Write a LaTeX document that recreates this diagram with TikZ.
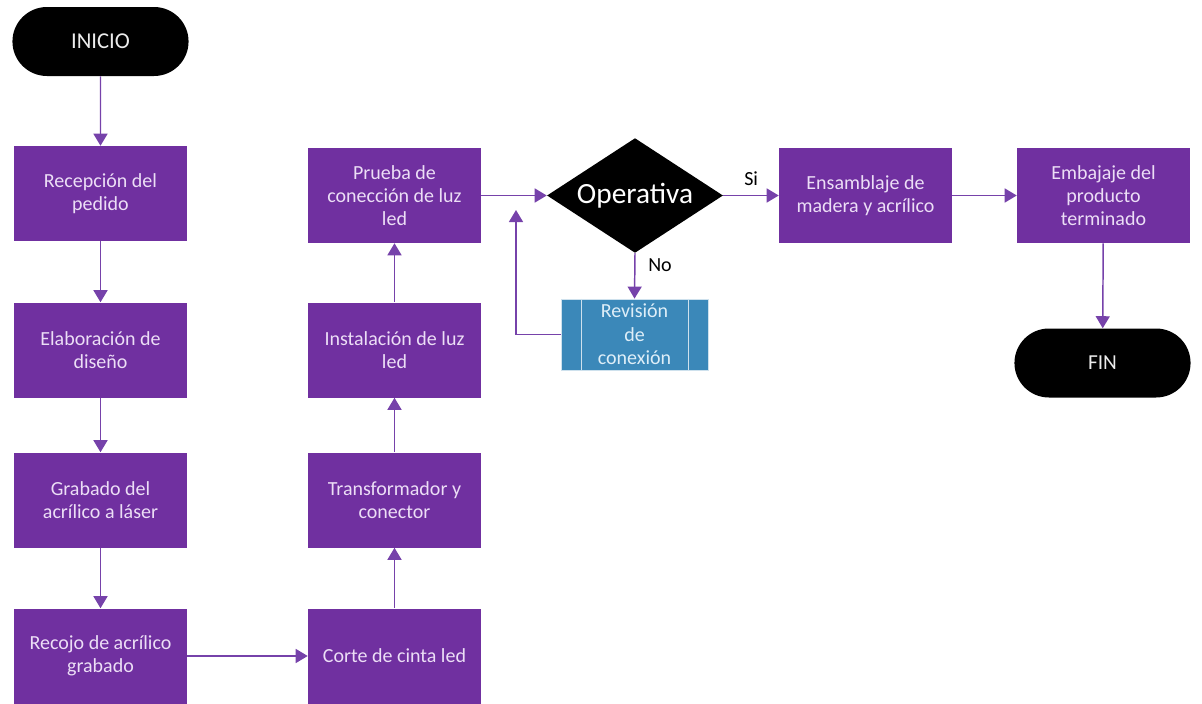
\documentclass[tikz,border=0pt]{standalone}
\usepackage{fontspec}
\setmainfont{Carlito}
\usepackage{xcolor}
\usetikzlibrary{shapes.geometric, shapes.misc, arrows.meta}

\definecolor{procfill}{RGB}{112,48,160}
\definecolor{proctext}{RGB}{236,222,246}
\definecolor{flowcol}{RGB}{118,66,170}
\definecolor{revfill}{RGB}{59,136,185}
\definecolor{revtext}{RGB}{222,238,248}

\tikzset{
  proc/.style={fill=procfill, draw=none, minimum width=129.75pt, minimum height=71.25pt,
    text=proctext, align=center, inner sep=2pt, font=\fontsize{15}{17.25}\selectfont},
  term/.style={rounded rectangle, fill=black, draw=none, minimum width=138.75pt,
    minimum height=51.75pt, text=white!85!gray},
  decis/.style={diamond, fill=black, draw=none, minimum width=132pt, minimum height=86pt,
    inner sep=0pt, aspect=1.53, text=white, font=\fontsize{22}{26}\selectfont},
  revbox/.style={fill=revfill, draw=white!75!revfill, line width=0.6pt, minimum width=110.25pt,
    minimum height=53.25pt, text=revtext, align=center, inner sep=1pt,
    font=\fontsize{15}{17.5}\selectfont},
  flow/.style={draw=flowcol, line width=1.1pt, -{Triangle[length=9pt, width=10.5pt]}},
  lbl/.style={text=black, font=\fontsize{15}{17}\selectfont, inner sep=0.75pt}
}

\begin{document}
\begin{tikzpicture}[x=0.75pt,y=0.75pt,yscale=-1,xscale=1]
        \useasboundingbox (0,0) rectangle (1202,703);

        %Shape: Terminator
        \node [term, font=\fontsize{17}{20}\selectfont] (inicio) at (100.5,41.5) {INICIO};

        %Shape: Rectangle (left column)
        \node [proc] (recep) at (100.5,193.5) {Recepción del\\pedido};
        \node [proc] (elab) at (100.5,350) {Elaboración de\\diseño};
        \node [proc] (grab) at (100.5,500) {Grabado del\\acrílico a láser};
        \node [proc] (recojo) at (100.5,656) {Recojo de acrílico\\grabado};

        %Shape: Rectangle (second column)
        \node [proc] (corte) at (394.5,656) {Corte de cinta led};
        \node [proc] (trafo) at (394.5,500) {Transformador y\\conector};
        \node [proc] (instal) at (394.5,350) {Instalación de luz\\led};
        \node [proc] (prueba) at (394.5,195.5) {Prueba de\\conección de luz\\led};

        %Shape: Decision
        \node [decis] (oper) at (635,195.5) {Operativa};

        %Shape: Predefined process
        \node [revbox] (revis) at (634.5,334.5) {Revisión\\de\\conexión};
        \draw [draw=white!75!revfill, line width=0.6pt] ([xshift=15.75pt]revis.north west) -- ([xshift=15.75pt]revis.south west);
        \draw [draw=white!75!revfill, line width=0.6pt] ([xshift=-15pt]revis.north east) -- ([xshift=-15pt]revis.south east);

        %Shape: Rectangle (right part)
        \node [proc] (ensam) at (865.5,195.5) {Ensamblaje de\\madera y acrílico};
        \node [proc] (embal) at (1103.5,195.5) {Embajaje del\\producto\\terminado};

        %Shape: Terminator
        \node [term, font=\fontsize{16}{19}\selectfont] (fin) at (1102.5,363) {FIN};

        % Connectors
        \draw [flow] (inicio) -- (recep);
        \draw [flow] (recep) -- (elab);
        \draw [flow] (elab) -- (grab);
        \draw [flow] (grab) -- (recojo);
        \draw [flow] (recojo) -- (corte);
        \draw [flow] (corte) -- (trafo);
        \draw [flow] (trafo) -- (instal);
        \draw [flow] (instal) -- (prueba);
        \draw [flow] (prueba.east) -- (oper.west);
        \draw [flow] (oper.east) -- (ensam.west);
        \draw [flow] (ensam) -- (embal);
        \draw [flow] (embal) -- (fin);
        \draw [flow] (oper.south) -- (revis.north);

        % Return loop
        \coordinate (back) at (516,210);
        \draw [flow] (revis.west) -| (back);

        % Text Node
        \node [lbl, anchor=south west] (si) at (743,187) {Si};
        % Text Node
        \node [lbl, anchor=west] (no) at (647,265) {No};

\end{tikzpicture}
\end{document}
